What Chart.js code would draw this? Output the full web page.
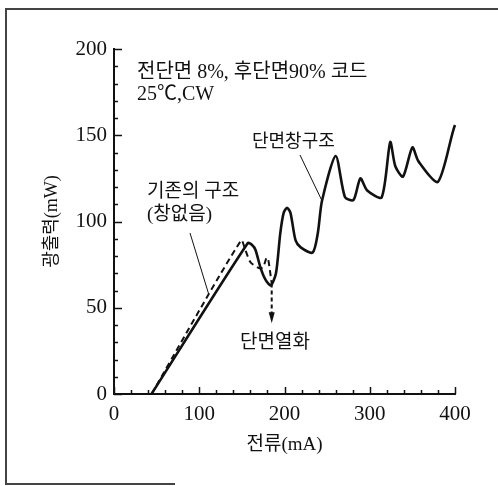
<!DOCTYPE html>
<html>
<head>
<meta charset="utf-8">
<script src="https://cdn.jsdelivr.net/npm/chart.js@4"></script>
<style>
  html, body { margin: 0; padding: 0; background: #fff; }
  #wrap { width: 498px; height: 486px; }
</style>
</head>
<body>
<div id="wrap"><canvas id="chart" width="498" height="486"></canvas></div>
<script>
// ----------- DATA -----------
// current (mA) / optical power (mW)
const windowCurrent = [44, 157, 162, 166, 172, 178, 184, 190, 195, 199, 203, 207, 213, 219, 233, 239, 244, 260, 271, 281, 289, 297, 314, 324, 330, 339, 350, 357, 380, 400, 404];
const windowPower   = [0, 87.5, 86.4, 83.5, 73, 66, 63, 70, 93, 105, 108, 105, 89, 85, 82, 93, 112, 138, 114, 112.5, 125, 118, 114, 146, 132, 126, 143, 135, 123, 156, 151];

const plainCurrent = [44, 149, 154, 160, 170, 175, 179, 181, 185];
const plainPower   = [0, 89, 83.5, 76.5, 73, 73.6, 79, 77.7, 64];

const xTicks = [0, 100, 200, 300, 400];
const yTicks = [0, 50, 100, 150, 200];
const xMinorStep = 20;
const yMinorStep = 10;

const SERIF = "'Liberation Serif', 'Noto Sans CJK KR', serif";
const INK = '#111';

function toPoints(xs, ys) {
  return xs.map((x, i) => ({ x, y: ys[i] }));
}

// ----------- PLUGINS -----------
// scanned page frame (left, top and a bit of the bottom edge)
const framePlugin = {
  id: 'frame',
  beforeDraw(chart) {
    const { ctx } = chart;
    ctx.save();
    ctx.fillStyle = '#fff';
    ctx.fillRect(0, 0, chart.width, chart.height);
    ctx.strokeStyle = '#444';
    ctx.lineWidth = 2;
    ctx.beginPath();
    ctx.moveTo(5, 9); ctx.lineTo(498, 9);
    ctx.moveTo(6, 8); ctx.lineTo(6, 484);
    ctx.moveTo(5, 484); ctx.lineTo(175, 484);
    ctx.stroke();
    ctx.restore();
  }
};

// inward tick marks and the text notes
const notesPlugin = {
  id: 'notes',
  afterDraw(chart) {
    const { ctx, scales: { x, y } } = chart;
    ctx.save();
    ctx.strokeStyle = INK;
    ctx.lineWidth = 1.5;

    // y ticks, pointing right
    const y0 = x.getPixelForValue(0);
    for (let v = yTicks[0]; v <= yTicks[yTicks.length - 1]; v += yMinorStep) {
      const py = Math.round(y.getPixelForValue(v)) + 0.5;
      const len = yTicks.includes(v) ? 8 : 4;
      ctx.beginPath(); ctx.moveTo(y0, py); ctx.lineTo(y0 + len, py); ctx.stroke();
    }
    // x ticks, pointing up
    const x0 = y.getPixelForValue(0);
    for (let v = xTicks[0]; v <= xTicks[xTicks.length - 1]; v += xMinorStep) {
      const px = Math.round(x.getPixelForValue(v)) + 0.5;
      const len = xTicks.includes(v) ? 7 : 4;
      ctx.beginPath(); ctx.moveTo(px, x0); ctx.lineTo(px, x0 - len); ctx.stroke();
    }

    // pointer lines
    ctx.lineWidth = 1;
    ctx.beginPath();
    ctx.moveTo(190, 233); ctx.lineTo(x.getPixelForValue(111), y.getPixelForValue(58));
    ctx.moveTo(300, 155); ctx.lineTo(x.getPixelForValue(244), y.getPixelForValue(112));
    ctx.stroke();

    // degradation arrow (dashed, straight down)
    const ax = x.getPixelForValue(185);
    const ay1 = y.getPixelForValue(64);
    const ay2 = y.getPixelForValue(41);
    ctx.lineWidth = 2;
    ctx.setLineDash([4, 3]);
    ctx.beginPath(); ctx.moveTo(ax, ay1); ctx.lineTo(ax, ay2 - 10); ctx.stroke();
    ctx.setLineDash([]);
    ctx.fillStyle = INK;
    ctx.beginPath();
    ctx.moveTo(ax - 3, ay2 - 11); ctx.lineTo(ax + 3, ay2 - 11); ctx.lineTo(ax, ay2); ctx.closePath();
    ctx.fill();

    // texts
    ctx.fillStyle = INK;
    ctx.textBaseline = 'middle';
    ctx.textAlign = 'left';
    ctx.font = '20px ' + SERIF;
    ctx.fillText('전단면 8%, 후단면90% 코드', 137, 73);
    ctx.fillText('25℃,CW', 137, 95);
    ctx.font = '19px ' + SERIF;
    ctx.fillText('기존의 구조', 147, 192);
    ctx.fillText('(창없음)', 147, 215);
    ctx.fillText('단면열화', 240, 343);
    ctx.font = '18px ' + SERIF;
    ctx.fillText('단면창구조', 252, 142);
    ctx.restore();
  }
};

// ----------- CHART -----------
new Chart(document.getElementById('chart'), {
  type: 'line',
  data: {
    datasets: [
      {
        label: '단면창구조',
        data: toPoints(windowCurrent, windowPower),
        borderColor: INK,
        borderWidth: 2.6,
        pointRadius: 0,
        tension: 0.25,
        fill: false,
        clip: false,
      },
      {
        label: '기존의 구조',
        data: toPoints(plainCurrent, plainPower),
        borderColor: INK,
        borderWidth: 2,
        borderDash: [6, 4],
        pointRadius: 0,
        tension: 0.25,
        fill: false,
        clip: false,
      },
    ],
  },
  options: {
    responsive: false,
    animation: false,
    events: [],
    layout: { padding: { top: 49, right: 43, left: 0, bottom: 0 } },
    plugins: { legend: { display: false }, tooltip: { enabled: false } },
    scales: {
      x: {
        type: 'linear',
        min: 0,
        max: 400,
        afterFit: s => { s.height = 92; },
        afterBuildTicks: s => { s.ticks = xTicks.map(v => ({ value: v })); },
        grid: { display: false, drawTicks: false },
        border: { display: true, color: INK, width: 2 },
        ticks: { color: INK, padding: 8, font: { family: SERIF, size: 21 } },
        title: {
          display: true,
          text: '전류(mA)',
          color: INK,
          font: { family: SERIF, size: 19 },
          padding: { top: 0, bottom: 30 },
        },
      },
      y: {
        type: 'linear',
        min: 0,
        max: 200,
        afterFit: s => { s.width = 114; },
        afterBuildTicks: s => { s.ticks = yTicks.map(v => ({ value: v })); },
        grid: { display: false, drawTicks: false },
        border: { display: true, color: INK, width: 2 },
        ticks: { color: INK, padding: 7, font: { family: SERIF, size: 21 } },
        title: {
          display: true,
          text: '광출력(mW)',
          color: INK,
          font: { family: SERIF, size: 18 },
          padding: { top: 41, bottom: 0 },
        },
      },
    },
  },
  plugins: [framePlugin, notesPlugin],
});
</script>
</body>
</html>
